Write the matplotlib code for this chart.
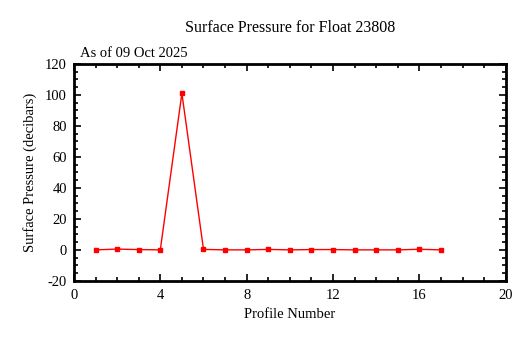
import matplotlib
matplotlib.use("Agg")
from matplotlib import pyplot as plt
from matplotlib.ticker import MultipleLocator

plt.rcParams['font.family'] = ['Liberation Serif', 'DejaVu Serif']
plt.rcParams['axes.unicode_minus'] = False

# profile number vs surface pressure
profiles = [1, 2, 3, 4, 5, 6, 7, 8, 9, 10, 11, 12, 13, 14, 15, 16, 17]
pressure = [0.0, 0.5, 0.2, 0.0, 101.0, 0.3, 0.0, 0.0, 0.3, 0.0, 0.2, 0.2,
            0.0, 0.0, 0.0, 0.4, 0.0]

fig = plt.figure(figsize=(5.28, 3.38), dpi=100)
ax = fig.add_axes([0.140, 0.169, 0.818, 0.642])

ax.plot(profiles, pressure, '-', color='red', lw=1.0,
        marker='s', markersize=3.2, markerfacecolor='red', markeredgecolor='red')

ax.set_xlim(0, 20)
ax.set_ylim(-20, 120)
ax.xaxis.set_major_locator(MultipleLocator(4))
ax.xaxis.set_minor_locator(MultipleLocator(1))
ax.yaxis.set_major_locator(MultipleLocator(20))
ax.yaxis.set_minor_locator(MultipleLocator(5))
ax.tick_params(which='both', direction='in', top=True, right=True, width=1.2,
               labelsize=10.5, colors='black')
ax.tick_params(which='major', length=5)
ax.tick_params(which='minor', length=3)
ax.tick_params(axis='x', pad=6)
ax.tick_params(axis='y', pad=5)
for s in ax.spines.values():
    s.set_linewidth(2)

ax.set_xlabel('Profile Number', fontsize=10.5, labelpad=4)
ax.set_ylabel('Surface Pressure (decibars)', fontsize=10.5, labelpad=6)
fig.text(0.55, 0.917, 'Surface Pressure for Float 23808', ha='center',
         va='center', fontsize=11.5)
ax.text(0.015, 1.03, 'As of 09 Oct 2025', transform=ax.transAxes, fontsize=10.5)

fig.savefig('out.png', dpi=100)
